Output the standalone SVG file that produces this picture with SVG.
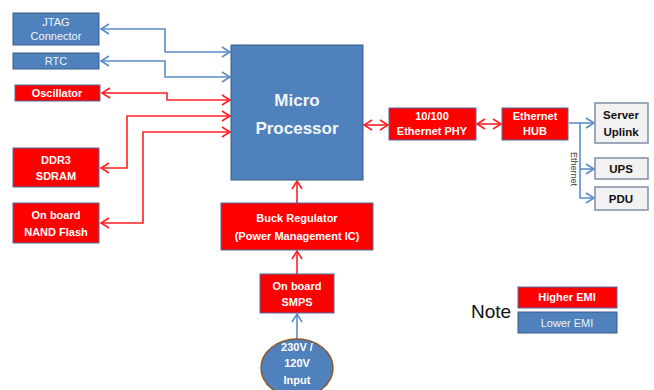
<svg xmlns="http://www.w3.org/2000/svg" width="654" height="390" viewBox="0 0 654 390">
<defs>
<style>
.blue{fill:#4F81BD;stroke:#385D8A;stroke-width:1}
.red{fill:#FF0000;stroke:#4A6FA5;stroke-width:1}
.gray{fill:#F2F2F2;stroke:#7F8FA6;stroke-width:1.5}
.tw{font-family:"Liberation Sans",Arial,sans-serif;font-size:11px;fill:#fff;text-anchor:middle;font-weight:bold}
.tb{font-family:"Liberation Sans",Arial,sans-serif;font-size:11px;fill:#F0F4FA;text-anchor:middle}
.tk{font-family:"Liberation Sans",Arial,sans-serif;font-size:11.5px;fill:#111;text-anchor:middle;font-weight:bold}
.rl{fill:none;stroke:#FF2020;stroke-width:1.6}
.bl{fill:none;stroke:#5B8CC8;stroke-width:1.6}
</style>
<marker id="ar" markerUnits="userSpaceOnUse" markerWidth="12" markerHeight="14" refX="9" refY="6" orient="auto-start-reverse" viewBox="0 0 12 12"><path d="M1,1 L9,6 L1,11" fill="none" stroke="#FF2020" stroke-width="1.6"/></marker>
<marker id="ab" markerUnits="userSpaceOnUse" markerWidth="12" markerHeight="14" refX="9" refY="6" orient="auto-start-reverse" viewBox="0 0 12 12"><path d="M1,1 L9,6 L1,11" fill="none" stroke="#5B8CC8" stroke-width="1.6"/></marker>
</defs>
<rect width="654" height="390" fill="#fff"/>
<g id="connectors">
<path class="bl" d="M101,29 H165 V52 H230" marker-start="url(#ab)" marker-end="url(#ab)"/>
<path class="bl" d="M101,61 H165 V77 H230" marker-start="url(#ab)" marker-end="url(#ab)"/>
<path class="rl" d="M102,93 H167 V100 H230" marker-start="url(#ar)" marker-end="url(#ar)"/>
<path class="rl" d="M101,168 H127 V116 H230" marker-start="url(#ar)" marker-end="url(#ar)"/>
<path class="rl" d="M101,223 H143 V132 H230" marker-start="url(#ar)" marker-end="url(#ar)"/>
<path class="rl" d="M364,125 H388" marker-start="url(#ar)" marker-end="url(#ar)"/>
<path class="rl" d="M477,124 H501" marker-start="url(#ar)" marker-end="url(#ar)"/>
<path class="rl" d="M297,203 V181" marker-end="url(#ar)"/>
<path class="rl" d="M297,274 V251" marker-end="url(#ar)"/>
<path class="bl" d="M297,339 V314" marker-end="url(#ab)"/>
<path class="bl" d="M569,123 H594" marker-end="url(#ab)"/>
<path class="bl" d="M580,123 V198 H594" marker-end="url(#ab)"/>
<path class="bl" d="M580,169 H594" marker-end="url(#ab)"/>
<text transform="translate(571,152) rotate(90)" font-family="Liberation Sans,Arial,sans-serif" font-size="9" fill="#333">Ethernet</text>
</g>
<g id="jtag"><rect class="blue" x="13" y="13" width="86" height="32"/><text class="tb" x="56" y="26">JTAG</text><text class="tb" x="56" y="40">Connector</text></g>
<g id="rtc"><rect class="blue" x="13" y="53" width="86" height="16"/><text class="tb" x="56" y="65">RTC</text></g>
<g id="osc"><rect class="red" x="15" y="85" width="85" height="16"/><text class="tw" x="57" y="97">Oscillator</text></g>
<g id="ddr3"><rect class="red" x="13" y="148" width="86" height="39"/><text class="tw" x="56" y="164">DDR3</text><text class="tw" x="56" y="180">SDRAM</text></g>
<g id="nand"><rect class="red" x="13" y="203" width="86" height="40"/><text class="tw" x="56" y="219">On board</text><text class="tw" x="56" y="236">NAND Flash</text></g>
<g id="cpu"><rect class="blue" x="231" y="45" width="132" height="135"/><text x="297" y="106" font-family="Liberation Sans,Arial,sans-serif" font-size="17" font-weight="bold" fill="#F2F5FA" text-anchor="middle">Micro</text><text x="297" y="134" font-family="Liberation Sans,Arial,sans-serif" font-size="17" font-weight="bold" fill="#F2F5FA" text-anchor="middle">Processor</text></g>
<g id="phy"><rect class="red" x="389" y="108" width="87" height="32"/><text class="tw" x="432" y="120">10/100</text><text class="tw" x="432" y="135">Ethernet PHY</text></g>
<g id="hub"><rect class="red" x="502" y="108" width="66" height="32"/><text class="tw" x="535" y="120">Ethernet</text><text class="tw" x="535" y="135">HUB</text></g>
<g id="server"><rect class="gray" x="595" y="103" width="53" height="40"/><text class="tk" x="621" y="119">Server</text><text class="tk" x="621" y="136">Uplink</text></g>
<g id="ups"><rect class="gray" x="595" y="158" width="53" height="21"/><text class="tk" x="621" y="173">UPS</text></g>
<g id="pdu"><rect class="gray" x="595" y="187" width="53" height="23"/><text class="tk" x="621" y="203">PDU</text></g>
<g id="buck"><rect class="red" x="221" y="203" width="152" height="47"/><text class="tw" x="297" y="222">Buck Regulator</text><text class="tw" x="297" y="240">(Power Management IC)</text></g>
<g id="smps"><rect class="red" x="260" y="274" width="74" height="39"/><text class="tw" x="297" y="290">On board</text><text class="tw" x="297" y="306">SMPS</text></g>
<g id="input"><ellipse cx="297" cy="368" rx="36" ry="29" fill="#4F81BD" stroke="#8B5A2B" stroke-width="1.5"/><text class="tw" x="297" y="351" font-weight="normal">230V /</text><text class="tw" x="297" y="367" font-weight="normal">120V</text><text class="tw" x="297" y="384" font-weight="normal">Input</text></g>
<g id="legend"><text x="471" y="318" font-family="Liberation Sans,Arial,sans-serif" font-size="19" fill="#111">Note</text><rect class="red" x="518" y="287" width="99" height="21"/><text class="tw" x="567" y="301">Higher EMI</text><rect class="blue" x="518" y="312" width="99" height="21"/><text class="tb" x="567" y="327">Lower EMI</text></g>
</svg>
